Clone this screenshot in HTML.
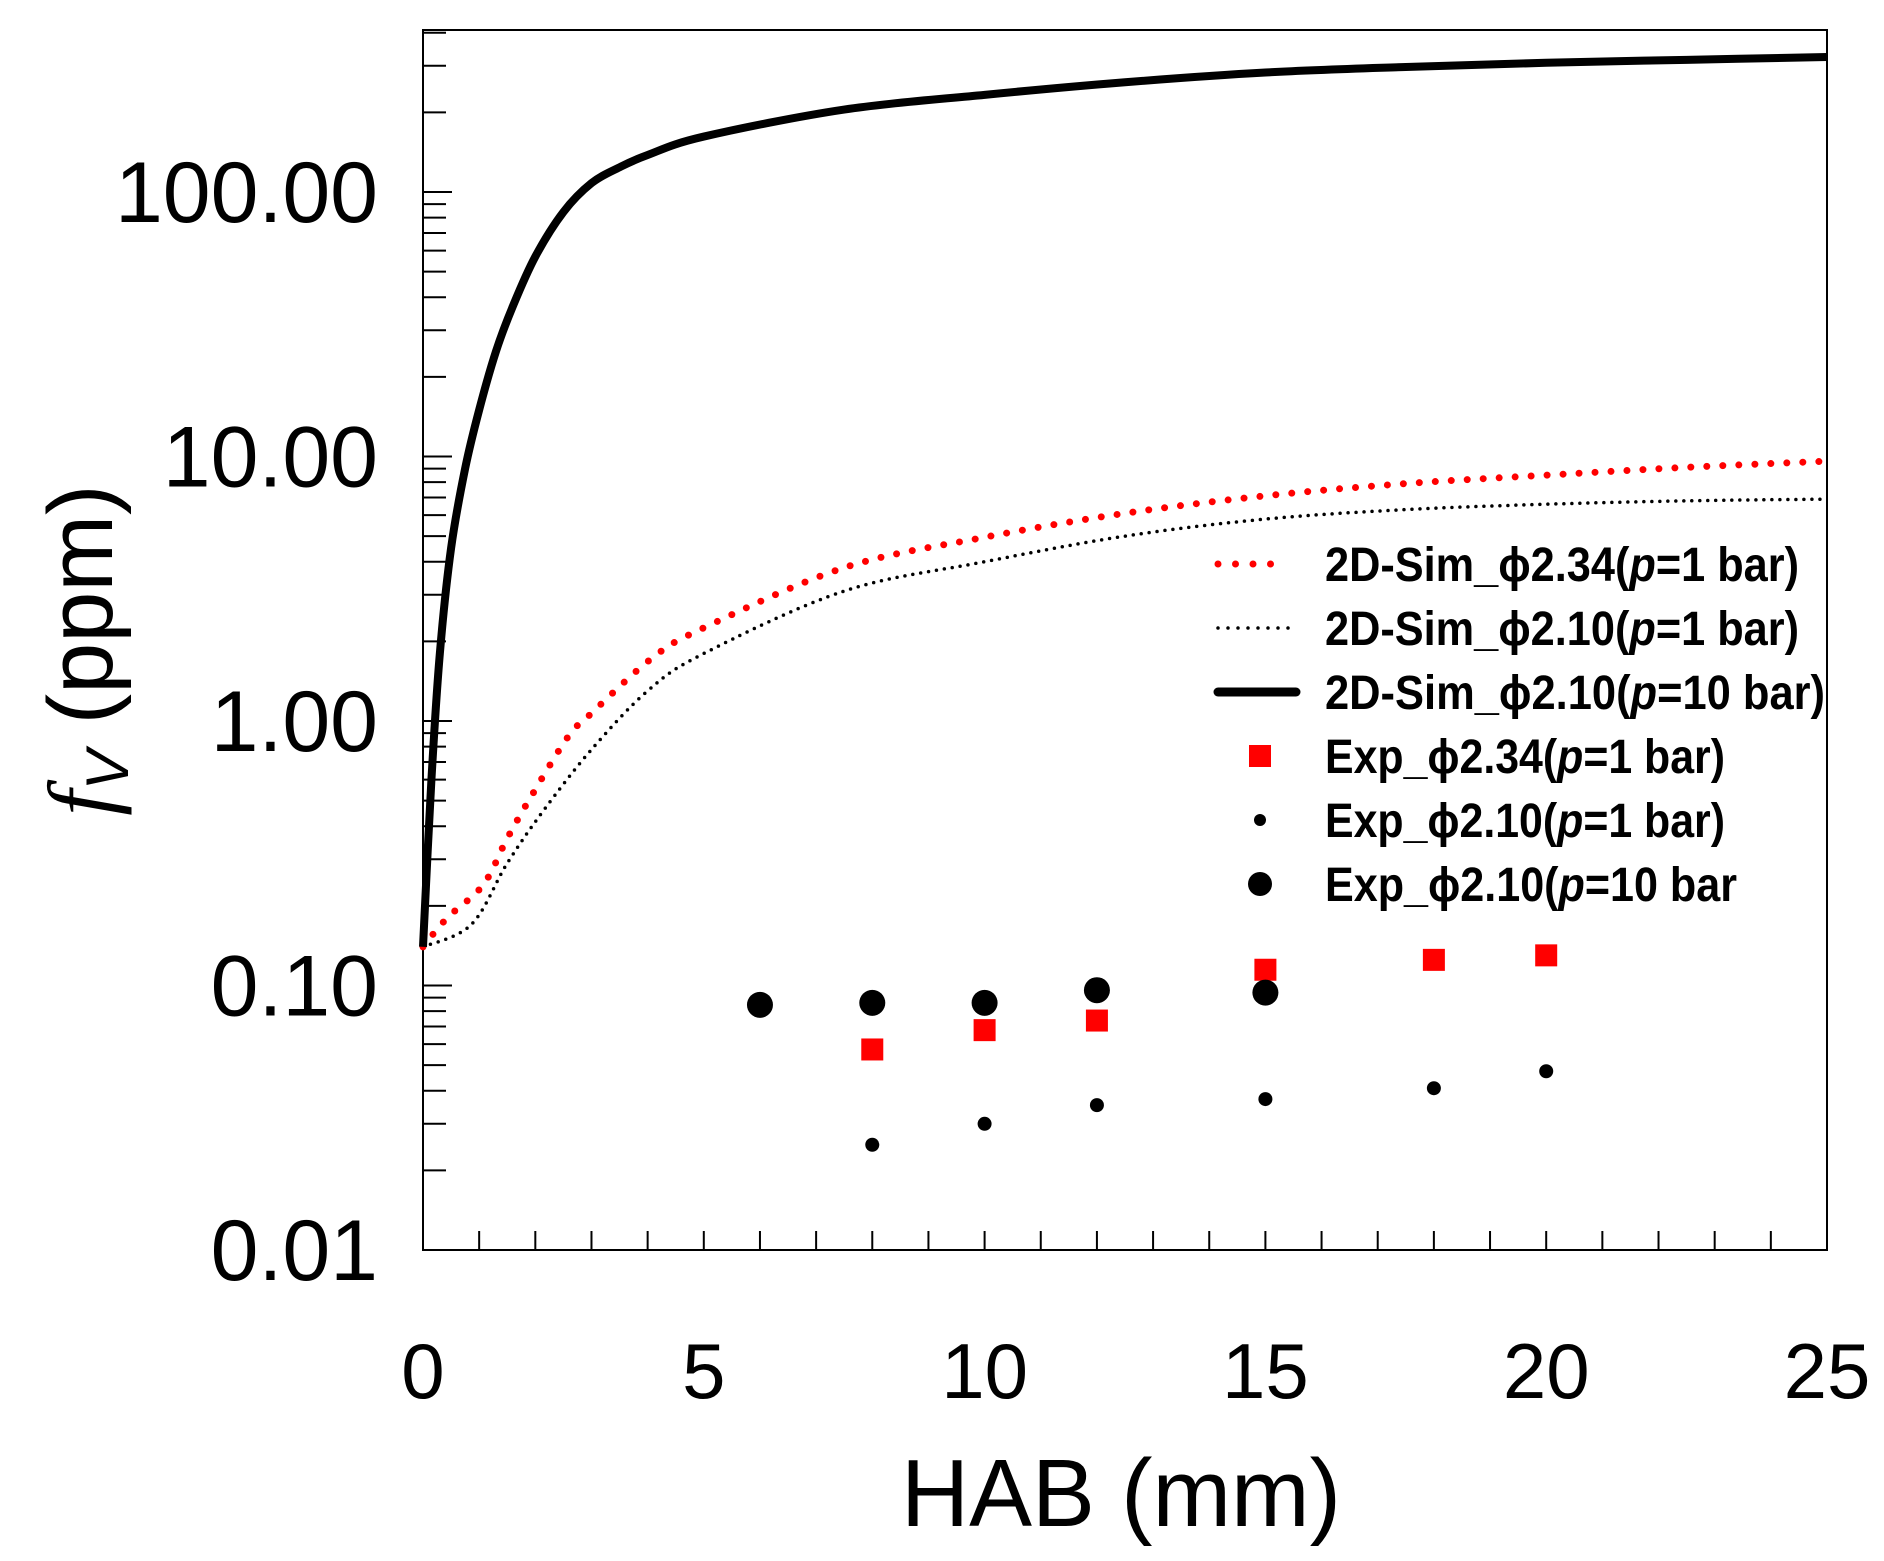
<!DOCTYPE html>
<html><head><meta charset="utf-8"><style>
html,body{margin:0;padding:0;background:#fff;width:1884px;height:1561px;overflow:hidden}
svg{display:block}
text{font-family:"Liberation Sans",sans-serif;fill:#000}
</style></head><body>
<svg id="chart" width="1884" height="1561" viewBox="0 0 1884 1561" xmlns="http://www.w3.org/2000/svg">
<g id="axes"></g>
<g id="series"></g>
<g id="legend"></g>
<text x="1121" y="1526" font-size="96" text-anchor="middle" textLength="440" lengthAdjust="spacingAndGlyphs">HAB (mm)</text>
<text transform="translate(112,650) rotate(-90)" font-size="92" text-anchor="middle"><tspan font-style="italic" font-family="Liberation Serif">f</tspan><tspan font-size="60" dy="16" font-style="italic">V</tspan><tspan dy="-16"> (ppm)</tspan></text>
</svg>
<script>
const xTicks=[0,5,10,15,20,25];
const yTicks=[0.01,0.1,1,10,100];
const yTickLabels=["0.01","0.10","1.00","10.00","100.00"];
const solidX=[0,0.15,0.3,0.5,0.75,1.0,1.3,1.6,2,2.5,3,3.5,4,5,7.5,10,12.5,15,17.5,20,22.5,25];
const solidY=[0.14,0.6,1.8,4.5,9,15,25,37,57,84,108,124,138,162,205,233,260,283,297,308,316,324];
const redX=[0,0.43,1.07,1.5,1.93,2.58,3.0,4.08,5,7.5,10,12.5,15,17.5,20,22.5,25];
const redY=[0.14,0.18,0.24,0.36,0.52,0.87,1.07,1.73,2.25,3.8,4.95,6.1,7.1,7.9,8.5,9.1,9.6];
const blkX=[0,0.86,1.5,2.15,3,4,5,7.5,10,12.5,15,17.5,20,22.5,25];
const blkY=[0.14,0.17,0.29,0.46,0.78,1.3,1.8,3.1,4.0,5.0,5.8,6.3,6.6,6.8,6.9];
const sqX=[8,10,12,15,18,20];
const sqY=[0.0573,0.0678,0.0737,0.1147,0.125,0.130];
const smX=[8,10,12,15,18,20];
const smY=[0.025,0.030,0.0353,0.0372,0.0409,0.0474];
const bgX=[6,8,10,12,15];
const bgY=[0.0845,0.086,0.086,0.096,0.094];

const NS="http://www.w3.org/2000/svg";
const L=423,R=1827,T=30,B=1250,XMAX=25,YMIN=0.01,YMAX=400;
const PX=(R-L)/XMAX, DEC=264.5;
function sx(v){return L+v*PX;}
function sy(v){return B-Math.log10(v/YMIN)*DEC;}
function mk(tag,attrs,parent){const e=document.createElementNS(NS,tag);for(const k in attrs)e.setAttribute(k,attrs[k]);parent.appendChild(e);return e;}
const axes=document.getElementById('axes'),ser=document.getElementById('series'),leg=document.getElementById('legend');

let fr=mk('rect',{x:L,y:T,width:R-L,height:B-T,fill:'none',stroke:'#000','stroke-width':2},axes);


for(let i=1;i<XMAX;i++){
  let t=mk('line',{x1:sx(i),x2:sx(i),y1:B,y2:B-19,stroke:'#000','stroke-width':2},axes);
  
  
}
xTicks.forEach(v=>{
  let t=mk('text',{x:sx(v),y:1398,'font-size':78,'text-anchor':'middle'},axes);
  t.textContent=String(v);
  
  
});
for(let d=-2;d<3;d++){
  for(let m=1;m<10;m++){
    const v=m*Math.pow(10,d); if(v>YMAX) break;
    let t=mk('line',{x1:L,x2:L+(m===1?29:23),y1:sy(v),y2:sy(v),stroke:'#000','stroke-width':2},axes);
    
    
  }
}
yTicks.forEach((v,i)=>{
  let t=mk('text',{x:378,y:sy(v)+30,'font-size':86,'text-anchor':'end'},axes);
  t.textContent=yTickLabels[i];
  
  
});

function pathD(xs,ys){
  let d='';
  for(let i=0;i<xs.length;i++){
    const x=sx(xs[i]),y=sy(ys[i]);
    if(i===0){d+='M'+x+' '+y;continue;}
    const x0=sx(xs[i-1]),y0=sy(ys[i-1]);
    const xp=i>1?sx(xs[i-2]):x0,yp=i>1?sy(ys[i-2]):y0;
    const xn=i<xs.length-1?sx(xs[i+1]):x,yn=i<xs.length-1?sy(ys[i+1]):y;
    const c1x=x0+(x-xp)/6,c1y=y0+(y-yp)/6,c2x=x-(xn-x0)/6,c2y=y-(yn-y0)/6;
    d+=' C'+c1x+' '+c1y+' '+c2x+' '+c2y+' '+x+' '+y;
  }
  return d;
}
let p1=mk('path',{d:pathD(blkX,blkY),fill:'none',stroke:'#000','stroke-width':3.5,'stroke-dasharray':'0 8','stroke-linecap':'round'},ser);


let p2=mk('path',{d:pathD(redX,redY),fill:'none',stroke:'#f00','stroke-width':7,'stroke-dasharray':'0 16','stroke-linecap':'round'},ser);


let p3=mk('path',{d:pathD(solidX,solidY),fill:'none',stroke:'#000','stroke-width':8},ser);



sqX.forEach((v,i)=>{
  let e=mk('rect',{x:sx(v)-11,y:sy(sqY[i])-11,width:22,height:22,fill:'#f00'},ser);
  
  
});
smX.forEach((v,i)=>{
  let e=mk('circle',{cx:sx(v),cy:sy(smY[i]),r:7,fill:'#000'},ser);
  
  
});
bgX.forEach((v,i)=>{
  let e=mk('circle',{cx:sx(v),cy:sy(bgY[i]),r:13,fill:'#000'},ser);
  
  
});

const legY=[564,628,692,756,820,884];
const legLabels=[["2D-Sim_ϕ2.34(","=1 bar)",474],["2D-Sim_ϕ2.10(","=1 bar)",474],["2D-Sim_ϕ2.10(","=10 bar)",500],["Exp_ϕ2.34(","=1 bar)",400],["Exp_ϕ2.10(","=1 bar)",400],["Exp_ϕ2.10(","=10 bar",412]];
let l1=mk('line',{x1:1218,x2:1288,y1:legY[0],y2:legY[0],stroke:'#f00','stroke-width':7,'stroke-dasharray':'0 17.5','stroke-linecap':'round'},leg);


let l2=mk('line',{x1:1218,x2:1298,y1:legY[1],y2:legY[1],stroke:'#000','stroke-width':3.5,'stroke-dasharray':'0 10','stroke-linecap':'round'},leg);


let l3=mk('line',{x1:1218,x2:1296,y1:legY[2],y2:legY[2],stroke:'#000','stroke-width':9,'stroke-linecap':'round'},leg);


let l4=mk('rect',{x:1249,y:legY[3]-11,width:22,height:22,fill:'#f00'},leg);


let l5=mk('circle',{cx:1260,cy:legY[4],r:6,fill:'#000'},leg);


let l6=mk('circle',{cx:1260,cy:legY[5],r:12,fill:'#000'},leg);


legLabels.forEach((lab,i)=>{
  let t=mk('text',{x:1325,y:legY[i]+17,'font-size':48,'font-weight':'bold',textLength:lab[2],lengthAdjust:'spacingAndGlyphs'},leg);
  
  
  t.appendChild(document.createTextNode(lab[0]));
  const ts=mk('tspan',{'font-style':'italic'},t); ts.textContent='p';
  t.appendChild(document.createTextNode(lab[1]));
});
</script>
</body></html>
